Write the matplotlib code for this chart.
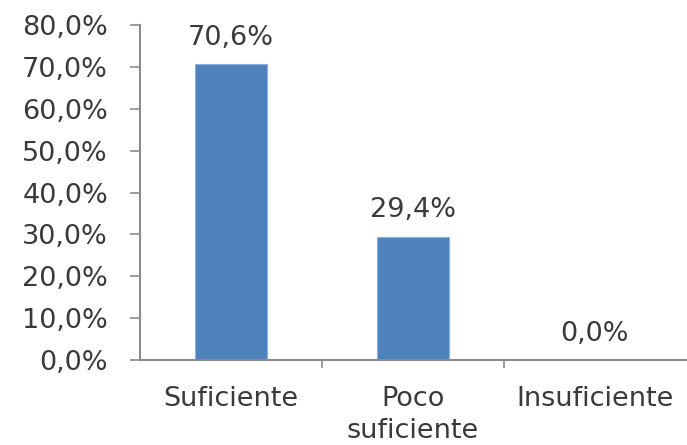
import matplotlib
matplotlib.use("Agg")
import matplotlib.pyplot as plt
from matplotlib.ticker import FuncFormatter, FixedLocator

categories = ["Suficiente", "Poco\nsuficiente", "Insuficiente"]
values = [70.6, 29.4, 0.0]
yticks = [0, 10, 20, 30, 40, 50, 60, 70, 80]

plt.rcParams['font.family'] = ['DejaVu Sans']
text_color = "#3a3a3a"
axis_color = "#8c8c8c"
fs = 19.5

fig = plt.figure(figsize=(6.87, 4.45), dpi=100)
ax = fig.add_axes([140/687, 85/445, 546/687, 335/445])

x = list(range(len(categories)))
ax.bar(x, values, width=0.4, color="#4F81BD", edgecolor="#8fb0dc", linewidth=0.8, zorder=2)

for xi, v in zip(x, values):
    ax.annotate(f"{v:.1f}%".replace(".", ","), (xi, v), xytext=(0, 19),
                textcoords="offset points", ha="center", va="center",
                fontsize=fs, color=text_color)

ax.set_xlim(-0.5, len(categories) - 0.5)
ax.set_ylim(0, 80)
ax.set_yticks(yticks)
ax.yaxis.set_major_formatter(FuncFormatter(lambda v, p: f"{v:.1f}%".replace(".", ",")))
ax.set_xticks(x)
ax.set_xticklabels(categories, fontsize=fs, color=text_color, linespacing=1.3)
ax.tick_params(axis="x", which="major", length=0, pad=19)
ax.xaxis.set_minor_locator(FixedLocator([0.5, 1.5]))
ax.tick_params(axis="x", which="minor", length=6, width=1.2, color=axis_color, direction="out")
ax.tick_params(axis="y", length=7, width=1.2, color=axis_color, labelsize=fs,
               labelcolor=text_color, pad=16)

for s in ["top", "right"]:
    ax.spines[s].set_visible(False)
for s in ["left", "bottom"]:
    ax.spines[s].set_color(axis_color)
    ax.spines[s].set_linewidth(1.5)

fig.savefig("out.png", dpi=100)
